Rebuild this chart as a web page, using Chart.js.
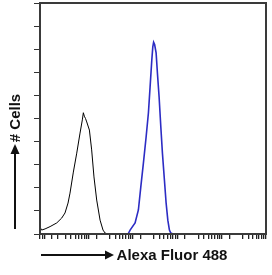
<!DOCTYPE html>
<html>
<head>
<meta charset="utf-8">
<script src="https://cdn.jsdelivr.net/npm/chart.js@4"></script>
<style>
  body { margin: 0; background: #fff; }
  canvas { display: block; }
</style>
</head>
<body>
<canvas id="histo" width="272" height="275"></canvas>
<script>
// control (black) histogram
const controlIntensity = [0.8, 0.82, 0.87, 1.04, 1.35, 1.91, 2.47, 2.93, 3.43, 3.80, 4.52, 5.39, 6.40, 7.21, 7.6, 8.0, 8.5, 9.06, 10.4, 11.7, 13.2, 15.2, 18.1, 21.1, 23.5, 27.4];
const controlCells = [0, 2.6, 1.7, 2.2, 3.2, 4.8, 6.9, 9.1, 13.4, 17.7, 26.8, 35, 43.7, 49.4, 52.5, 51, 50, 48.5, 45, 36.4, 24.7, 14.7, 6, 1.7, 0.4, 0];

// stained (blue) histogram
const stainedIntensity = [77.5, 86.1, 111.5, 132.4, 150, 171.8, 197.8, 222.8, 243, 265.8, 280, 292, 307.7, 332.5, 355.7, 388.4, 424.7, 461.4, 511.7, 558.9, 610.7, 663.6, 713, 804];
const stainedCells = [0, 1.7, 4.8, 10.4, 20.3, 30.7, 42, 52.4, 63.6, 75.3, 81, 83, 82, 78.4, 69.7, 59.3, 46.3, 35, 23.4, 13.4, 6, 1.7, 0.4, 0];

const xMin = 0.8, xMax = 100000;
const yMax = 100, yStep = 10;
const xTitle = 'Alexa Fluor 488';
const yTitle = '# Cells';

function toPoints(xs, ys) {
    let pts = [];
    for (let i = 0; i < xs.length; i++)
        pts.push({ x: xs[i], y: ys[i] });
    return pts;
}

// frame, axis titles and arrows
const decorations = {
    id: 'decorations',
    afterDraw(chart) {
        const ctx = chart.ctx;
        const a = chart.chartArea;
        ctx.save();
        ctx.strokeStyle = '#3a3a3a';
        ctx.lineWidth = 2;
        ctx.strokeRect(a.left, a.top, a.right - a.left, a.bottom - a.top);

        ctx.fillStyle = '#111';
        ctx.strokeStyle = '#111';
        ctx.font = 'bold 15px "Liberation Sans", Arial, sans-serif';
        ctx.textAlign = 'center';
        ctx.textBaseline = 'middle';
        ctx.fillText(xTitle, 172, 256);

        // right arrow
        ctx.lineWidth = 2;
        ctx.beginPath();
        ctx.moveTo(41, 255);
        ctx.lineTo(106, 255);
        ctx.stroke();
        ctx.beginPath();
        ctx.moveTo(114, 255);
        ctx.lineTo(105, 250.5);
        ctx.lineTo(105, 259.5);
        ctx.closePath();
        ctx.fill();

        // up arrow
        ctx.beginPath();
        ctx.moveTo(15, 229);
        ctx.lineTo(15, 153);
        ctx.stroke();
        ctx.beginPath();
        ctx.moveTo(15, 144);
        ctx.lineTo(10.5, 154);
        ctx.lineTo(19.5, 154);
        ctx.closePath();
        ctx.fill();

        ctx.translate(16, 118);
        ctx.rotate(-Math.PI / 2);
        ctx.fillText(yTitle, 0, 0);
        ctx.restore();
    }
};

new Chart('histo', {
    type: 'line',
    data: {
        datasets: [{
            data: toPoints(controlIntensity, controlCells),
            borderColor: '#000000',
            borderWidth: 1,
            pointRadius: 0,
            fill: false,
            tension: 0
        }, {
            data: toPoints(stainedIntensity, stainedCells),
            borderColor: '#2c2cc4',
            borderWidth: 1.6,
            pointRadius: 0,
            fill: false,
            tension: 0
        }]
    },
    options: {
        responsive: false,
        animation: false,
        layout: { padding: { left: 0, top: 3, right: 6, bottom: 0 } },
        plugins: {
            legend: { display: false },
            tooltip: { enabled: false }
        },
        scales: {
            x: {
                type: 'logarithmic',
                min: xMin,
                max: xMax,
                border: { display: false },
                grid: { drawOnChartArea: false, drawTicks: true, tickLength: 5, color: '#222', lineWidth: 1.3 },
                ticks: { display: false },
                afterBuildTicks: scale => {
                    scale.ticks = scale.ticks.filter(t => !(t.value >= 20 && String(t.value).charAt(0) === '2'));
                },
                afterFit: scale => { scale.height = 41; }
            },
            y: {
                type: 'linear',
                min: 0,
                max: yMax,
                border: { display: false },
                grid: { drawOnChartArea: false, drawTicks: true, tickLength: 6, color: '#333', lineWidth: 1 },
                ticks: { display: false, stepSize: yStep },
                afterFit: scale => { scale.width = 40; }
            }
        }
    },
    plugins: [decorations]
});
</script>
</body>
</html>
